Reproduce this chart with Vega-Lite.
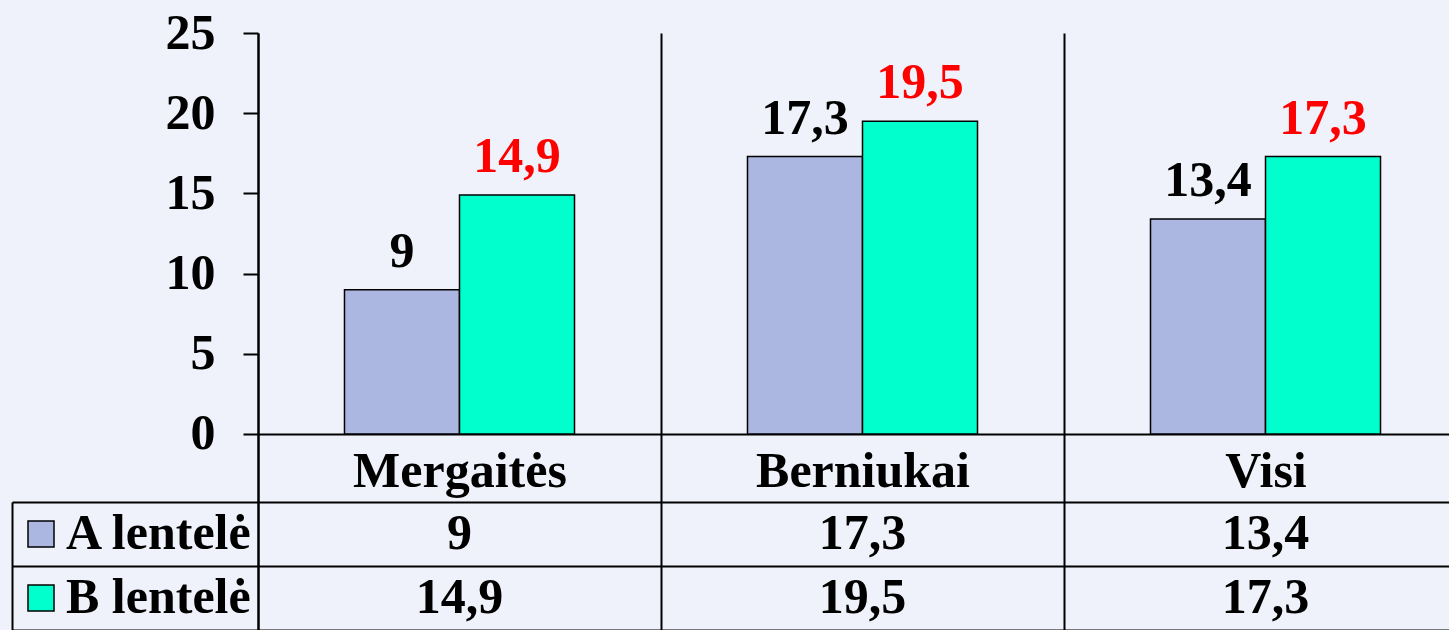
{
  "$schema": "https://vega.github.io/schema/vega-lite/v6.json",
  "width": 1191,
  "height": 597,
  "autosize": {"type": "none"},
  "padding": {"left": 258, "top": 33, "right": 0, "bottom": 0},
  "background": "#eff2fa",
  "config": {"view": {"stroke": null}, "font": "Liberation Serif"},
  "data": {
    "values": [
      {"cat": "Mergaitės", "series": "A lentelė", "value": 9},
      {"cat": "Mergaitės", "series": "B lentelė", "value": 14.9},
      {"cat": "Berniukai", "series": "A lentelė", "value": 17.3},
      {"cat": "Berniukai", "series": "B lentelė", "value": 19.5},
      {"cat": "Visi", "series": "A lentelė", "value": 13.4},
      {"cat": "Visi", "series": "B lentelė", "value": 17.3}
    ]
  },
  "transform": [
    {"calculate": "replace(format(datum.value, '.1~f'), '.', ',')", "as": "label"}
  ],
  "layer": [
    {
      "layer": [
        {
          "mark": {"type": "bar", "stroke": "black", "strokeWidth": 1.5},
          "encoding": {
            "x": {
              "field": "cat", "type": "nominal",
              "sort": ["Mergaitės", "Berniukai", "Visi"],
              "scale": {"range": [0, 1209], "paddingInner": 0, "paddingOuter": 0},
              "axis": {
                "title": null, "orient": "bottom", "offset": -196, "labelAngle": 0,
                "labelFont": "Liberation Serif", "labelFontWeight": "bold", "labelFontSize": 50,
                "labelColor": "black", "labelPadding": 12, "labelLimit": 0,
                "ticks": false, "domain": true, "domainColor": "black", "domainWidth": 2,
                "grid": true, "gridColor": "black", "gridWidth": 2, "gridOpacity": 1,
                "tickBand": "extent"
              }
            },
            "xOffset": {
              "field": "series", "type": "nominal",
              "scale": {"paddingInner": 0, "paddingOuter": 0.752}
            },
            "y": {
              "field": "value", "type": "quantitative",
              "scale": {"domain": [-12.22, 25], "nice": false, "zero": false},
              "axis": {
                "orient": "left", "title": null, "values": [0, 5, 10, 15, 20, 25],
                "tickSize": 15, "tickWidth": 2, "tickColor": "black",
                "domain": true, "domainColor": "black", "domainWidth": 2,
                "labelFont": "Liberation Serif", "labelFontWeight": "bold", "labelFontSize": 50,
                "labelColor": "black", "labelPadding": 28, "grid": false
              }
            },
            "color": {
              "field": "series", "type": "nominal",
              "scale": {"domain": ["A lentelė", "B lentelė"], "range": ["#abb6e1", "#00ffcc"]},
              "legend": {
                "title": null, "orient": "none", "legendX": -242, "legendY": 469,
                "symbolType": "square", "symbolSize": 676,
                "symbolStrokeColor": "black", "symbolStrokeWidth": 1.5, "symbolOpacity": 1,
                "labelFont": "Liberation Serif", "labelFontWeight": "bold", "labelFontSize": 50,
                "labelColor": "black", "labelOffset": 0, "labelLimit": 0,
                "clipHeight": 64, "rowPadding": 0, "padding": 0
              }
            }
          }
        },
        {
          "mark": {
            "type": "text", "font": "Liberation Serif", "fontWeight": "bold",
            "fontSize": 50, "baseline": "alphabetic", "dy": -23
          },
          "encoding": {
            "x": {"field": "cat", "type": "nominal", "sort": ["Mergaitės", "Berniukai", "Visi"]},
            "xOffset": {"field": "series", "type": "nominal"},
            "y": {
              "field": "value", "type": "quantitative",
              "scale": {"domain": [-12.22, 25], "nice": false, "zero": false}
            },
            "text": {"field": "label"},
            "color": {
              "condition": {"test": "datum.series === 'B lentelė'", "value": "#ff0000"},
              "value": "#000000"
            }
          }
        }
      ]
    },
    {
      "layer": [
        {
          "mark": {
            "type": "text", "font": "Liberation Serif", "fontWeight": "bold",
            "fontSize": 50, "baseline": "middle"
          },
          "encoding": {
            "x": {"field": "cat", "type": "nominal", "sort": ["Mergaitės", "Berniukai", "Visi"]},
            "y": {
              "field": "series", "type": "nominal",
              "scale": {
                "type": "band", "domain": ["A lentelė", "B lentelė"],
                "range": [469, 597], "paddingInner": 0, "paddingOuter": 0
              },
              "axis": {
                "orient": "left", "title": null, "offset": 246,
                "domain": true, "domainColor": "black", "domainWidth": 2,
                "labels": false,
                "ticks": true, "tickBand": "extent", "tickSize": -246, "tickWidth": 2,
                "tickColor": "black", "grid": true, "gridColor": "black",
                "gridWidth": 2, "gridOpacity": 1
              }
            },
            "text": {"field": "label"},
            "color": {"value": "#000000"}
          }
        }
      ]
    }
  ],
  "resolve": {"scale": {"y": "independent"}, "axis": {"y": "independent"}}
}
